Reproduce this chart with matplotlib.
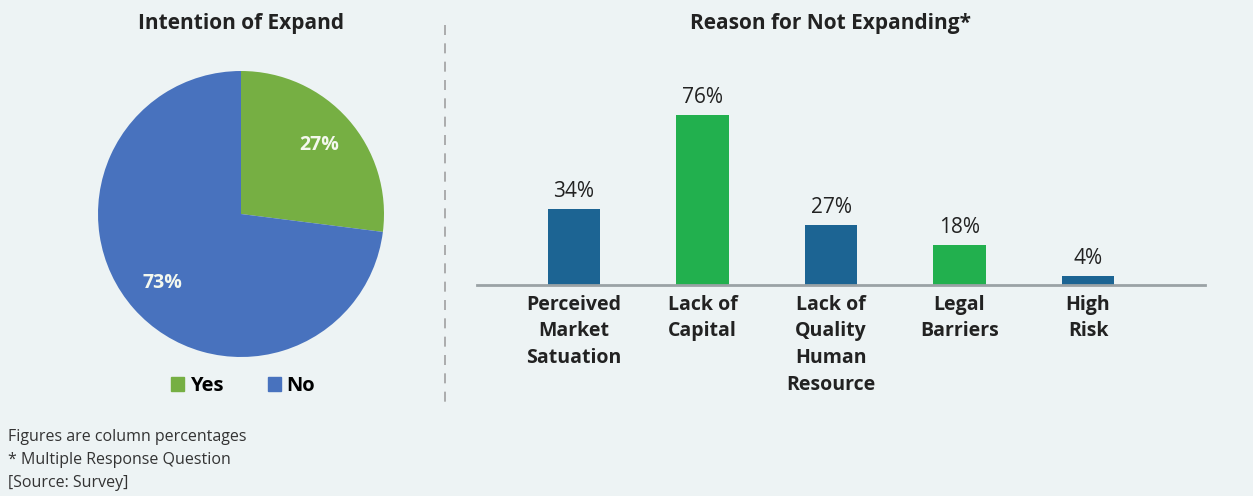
import matplotlib.pyplot as plt
from matplotlib.lines import Line2D
from matplotlib.patches import Patch

# Data
pie_labels = ["Yes", "No"]
pie_values = [27, 73]
pie_colors = ["#76AF43", "#4872BE"]

reasons = ["Perceived\nMarket\nSatuation", "Lack of\nCapital", "Lack of\nQuality\nHuman\nResource",
           "Legal\nBarriers", "High\nRisk"]
reason_values = [34, 76, 27, 18, 4]
reason_colors = ["#1C6493", "#22B04E", "#1C6493", "#22B04E", "#1C6493"]

notes = ["Figures are column percentages", "* Multiple Response Question", "[Source: Survey]"]

main = "Open Sans"
bg = "#EDF3F4"
W, H = 1253, 496
fig = plt.figure(figsize=(W / 100, H / 100), dpi=100, facecolor=bg)

# Pie
cx, cy, r = 241, 214, 143
ax1 = fig.add_axes([(cx - r) / W, (H - cy - r) / H, 2 * r / W, 2 * r / H])
ax1.set_facecolor(bg)
wedges, texts, autotexts = ax1.pie(pie_values, colors=pie_colors, startangle=90, counterclock=False,
                                   autopct=lambda p: f"{p:.0f}%", pctdistance=0.73,
                                   textprops=dict(color="#F4F8EE", fontsize=14, fontweight="bold",
                                                  family=main))
ax1.set_xlim(-1, 1)
ax1.set_ylim(-1, 1)
fig.text(cx / W, 1 - 24 / H, "Intention of Expand", ha="center", va="center",
         fontsize=15, fontweight="bold", family=main, color="#222222")

handles = [Patch(color=c, label=l) for c, l in zip(pie_colors, pie_labels)]
fig.legend(handles=handles, loc="center", bbox_to_anchor=(243 / W, 1 - 386 / H), ncol=2,
           frameon=False, handlelength=0.65, handleheight=0.65, handletextpad=0.3, columnspacing=2.2,
           prop=dict(family=main, weight="bold", size=14.5))

# dashed separator
fig.add_artist(Line2D([445 / W, 445 / W], [1 - 25 / H, 1 - 405 / H], transform=fig.transFigure,
                      color="#A0A0A0", lw=1.2, ls=(0, (6, 5))))

# Bars
base, top_px = 285, 60
ax2 = fig.add_axes([477 / W, (H - base) / H, 728 / W, (base - top_px) / H])
ax2.set_facecolor(bg)
x = list(range(len(reasons)))
ax2.bar(x, reason_values, width=0.41, color=reason_colors)
ax2.set_xlim(-0.755, 4.91)
ax2.set_ylim(0, (base - top_px) / 2.237)
for xi, v in zip(x, reason_values):
    ax2.annotate(f"{v}%", (xi, v), xytext=(0, 5), textcoords="offset points", ha="center",
                 va="bottom", fontsize=15, family=main, color="#222222")
ax2.set_xticks(x)
ax2.set_xticklabels(reasons, fontsize=14, fontweight="bold", family=main, color="#222222",
                    linespacing=1.45)
ax2.tick_params(axis="x", length=0, pad=7)
ax2.set_yticks([])
for s in ["top", "left", "right"]:
    ax2.spines[s].set_visible(False)
ax2.spines["bottom"].set_color("#9AA2A5")
ax2.spines["bottom"].set_linewidth(2)
fig.text(831 / W, 1 - 24 / H, "Reason for Not Expanding*", ha="center", va="center",
         fontsize=15, fontweight="bold", family=main, color="#222222")

# footnotes
for i, t in enumerate(notes):
    fig.text(8 / W, 1 - (437 + 23 * i) / H, t, ha="left", va="center", fontsize=11.5,
             family=main, color="#333333")

fig.savefig("out.png", dpi=100, facecolor=bg)
